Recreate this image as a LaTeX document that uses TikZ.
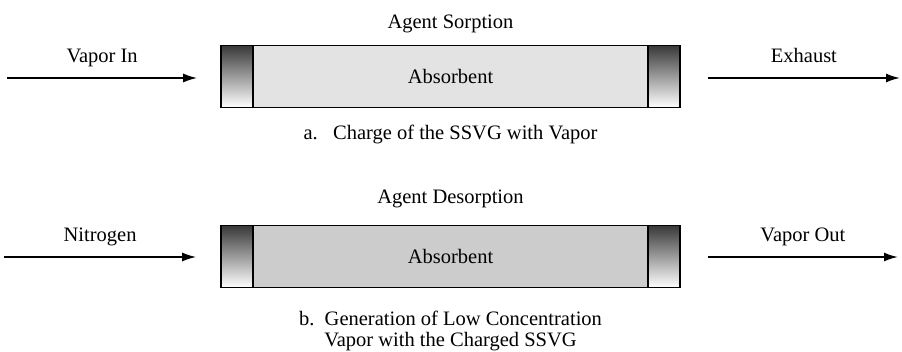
\documentclass[tikz,border=0pt]{standalone}
\usepackage{fontspec}
\setmainfont{Liberation Serif}
\usetikzlibrary{arrows.meta,positioning,calc}
\tikzset{
  tube/.style={draw=black, line width=1.6pt, minimum width=459pt, minimum height=62pt, inner sep=0pt, font=\fontsize{20.5}{25}\selectfont},
  endcap/.style={draw=black, line width=1.6pt, minimum width=32pt, minimum height=62pt, inner sep=0pt, top color=black!78, bottom color=white},
  lbl/.style={inner sep=0pt, text height=0.7em, text depth=0.22em, font=\fontsize{20.5}{25}\selectfont},
  note/.style={inner sep=0pt, align=center, font=\fontsize{20.5}{20.5}\selectfont},
  flow/.style={-{Latex[length=14pt,width=9pt]}, line width=1.8pt}
}
\begin{document}
\begin{tikzpicture}[x=1pt, y=-1pt]
\useasboundingbox (0,0) rectangle (902,352);
% a. charge
\node[tube, fill=black!11] (tubeA) at (450.5,76.5) {Absorbent};
\node[endcap, anchor=north west] (inA) at (tubeA.north west) {};
\node[endcap, anchor=north east] (outA) at (tubeA.north east) {};
\node[lbl, above=13.5pt of tubeA] (headA) {Agent Sorption};
\node[note, below=17pt of tubeA] (noteA) {a.\enspace\ Charge of the SSVG with Vapor};
\coordinate (feedA) at (7,78);
\coordinate (ventA) at (900,78);
\draw[flow] (feedA) -- node[lbl, above=12pt] (vaporin) {Vapor In} ($(feedA -| inA.west)+(-23,0)$);
\draw[flow] ($(ventA -| outA.east)+(27,0)$) -- node[lbl, above=12pt] (exhaust) {Exhaust} (ventA);
% b. generation
\node[tube, fill=black!20] (tubeB) at (450.5,256.5) {Absorbent};
\node[endcap, anchor=north west] (inB) at (tubeB.north west) {};
\node[endcap, anchor=north east] (outB) at (tubeB.north east) {};
\node[lbl, above=18.5pt of tubeB] (headB) {Agent Desorption};
\node[note, below=23pt of tubeB] (noteB) {b.\ \ Generation of Low Concentration\\Vapor with the Charged SSVG};
\coordinate (feedB) at (4,257);
\coordinate (ventB) at (898,257);
\draw[flow] (feedB) -- node[lbl, above=12pt] (nitrogen) {Nitrogen} ($(feedB -| inB.west)+(-24,0)$);
\draw[flow] ($(ventB -| outB.east)+(27,0)$) -- node[lbl, above=12pt] (vaporout) {Vapor Out} (ventB);
\end{tikzpicture}
\end{document}
